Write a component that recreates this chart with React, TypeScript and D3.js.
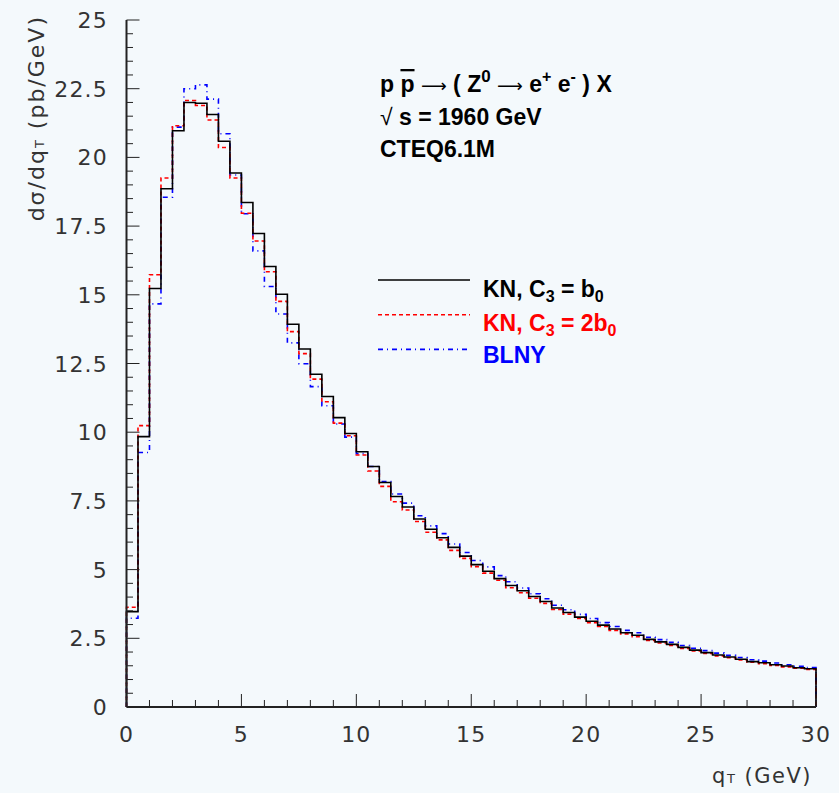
import React from "react";
import * as d3 from "d3";

const binEdges: number[] = d3.range(0, 30, 0.5);

const knB0: number[] = [
  3.47, 9.84, 15.23, 18.86, 20.97, 22.0, 21.97, 21.56, 20.59, 19.43,
  18.36, 17.23, 16.03, 15.02, 13.93, 13.03, 12.11, 11.3, 10.53, 9.95,
  9.29, 8.75, 8.17, 7.66, 7.28, 6.84, 6.47, 6.16, 5.81, 5.49,
  5.18, 4.94, 4.67, 4.42, 4.23, 4.02, 3.84, 3.6, 3.44, 3.27,
  3.12, 2.98, 2.84, 2.7, 2.61, 2.46, 2.37, 2.28, 2.17, 2.07,
  1.98, 1.89, 1.82, 1.74, 1.65, 1.61, 1.54, 1.49, 1.43, 1.39,
];

const kn2B0: number[] = [
  3.63, 10.24, 15.73, 19.25, 21.15, 22.07, 21.89, 21.36, 20.36, 19.25,
  17.97, 16.96, 15.84, 14.76, 13.66, 12.86, 11.93, 11.11, 10.33, 9.87,
  9.17, 8.59, 8.03, 7.47, 7.17, 6.75, 6.36, 6.08, 5.7, 5.41,
  5.11, 4.87, 4.61, 4.34, 4.16, 3.96, 3.77, 3.55, 3.38, 3.22,
  3.07, 2.93, 2.79, 2.66, 2.56, 2.42, 2.33, 2.24, 2.13, 2.04,
  1.95, 1.86, 1.79, 1.71, 1.63, 1.58, 1.51, 1.46, 1.41, 1.37,
];

const blny: number[] = [
  3.23, 9.26, 14.67, 18.55, 21.1, 22.5, 22.64, 22.12, 20.86, 19.36,
  17.95, 16.6, 15.3, 14.3, 13.25, 12.49, 11.66, 10.96, 10.3, 9.82,
  9.22, 8.75, 8.2, 7.75, 7.42, 6.96, 6.59, 6.31, 5.93, 5.62,
  5.33, 5.1, 4.78, 4.56, 4.33, 4.12, 3.94, 3.7, 3.54, 3.37,
  3.22, 3.07, 2.93, 2.79, 2.7, 2.54, 2.45, 2.35, 2.24, 2.14,
  2.05, 1.96, 1.88, 1.8, 1.72, 1.67, 1.6, 1.54, 1.48, 1.44,
];

const xTickLabels: number[] = [0, 5, 10, 15, 20, 25, 30];
const yTickLabels: number[] = [0, 2.5, 5, 7.5, 10, 12.5, 15, 17.5, 20, 22.5, 25];

const W = 839;
const H = 793;
const BG = "#f4f9fc";
const AX = "#222";
const LABEL_FONT = "'DejaVu Sans', sans-serif";
const BOLD_FONT = "'Liberation Sans', Arial, sans-serif";

const x = d3.scaleLinear().domain([0, 30]).range([126.5, 816]);
const y = d3.scaleLinear().domain([0, 25]).range([707, 20]);

function histPath(vals: number[]): string {
  const pts: [number, number][] = [[0, 0]];
  vals.forEach((v, i) => pts.push([binEdges[i], v]));
  pts.push([30, vals[vals.length - 1]]);
  pts.push([30, 0]);
  const line = d3
    .line<[number, number]>()
    .x((d) => x(d[0]))
    .y((d) => y(d[1]))
    .curve(d3.curveStepAfter);
  return line(pts) || "";
}

const series = [
  { vals: knB0, color: "#000000", dash: "none" },
  { vals: kn2B0, color: "#ff0000", dash: "4,3" },
  { vals: blny, color: "#0000ff", dash: "5,4,1,4" },
];

export default function App() {
  const yMinor = d3.range(0, 25.001, 0.5);
  const xMinor = d3.range(0, 30.001, 1);
  return (
    <svg
      width={W}
      height={H}
      style={{ position: "absolute", left: 0, top: 0, display: "block" }}
    >
      <rect x={0} y={0} width={W} height={H} fill={BG} />

      {/* histograms: drawn in order blue, red, black */}
      {[series[2], series[1], series[0]].map((s, i) => (
        <path
          key={i}
          d={histPath(s.vals)}
          fill="none"
          stroke={s.color}
          strokeWidth={1.6}
          strokeDasharray={s.dash}
        />
      ))}

      {/* y axis */}
      <line x1={x(0)} x2={x(0)} y1={y(0)} y2={y(25)} stroke={AX} strokeWidth={2} />
      {yMinor.map((v, i) => {
        const major = Math.abs(v / 2.5 - Math.round(v / 2.5)) < 1e-6;
        return (
          <line
            key={"ym" + i}
            x1={x(0)}
            x2={x(0) + (major ? 13 : 6.5)}
            y1={y(v)}
            y2={y(v)}
            stroke={AX}
            strokeWidth={1}
          />
        );
      })}
      {yTickLabels.map((v) => (
        <text
          key={"yl" + v}
          x={108}
          y={y(v) + 8}
          textAnchor="end"
          fontFamily={LABEL_FONT}
          fontSize={22}
          letterSpacing={1.2}
          fill="#333"
        >
          {String(v)}
        </text>
      ))}

      {/* x axis */}
      <line x1={x(0)} x2={x(30)} y1={y(0)} y2={y(0)} stroke={AX} strokeWidth={2} />
      {xMinor.map((v, i) => {
        const major = v % 5 === 0;
        return (
          <line
            key={"xm" + i}
            x1={x(v)}
            x2={x(v)}
            y1={y(0)}
            y2={y(0) - (major ? 13 : 7)}
            stroke={AX}
            strokeWidth={1}
          />
        );
      })}
      {xTickLabels.map((v) => (
        <text
          key={"xl" + v}
          x={x(v)}
          y={742}
          textAnchor="middle"
          fontFamily={LABEL_FONT}
          fontSize={22}
          letterSpacing={1.2}
          fill="#333"
        >
          {String(v)}
        </text>
      ))}

      {/* axis titles */}
      <text
        x={812}
        y={783}
        textAnchor="end"
        fontFamily={LABEL_FONT}
        fontSize={21}
        letterSpacing={1.5}
        fill="#333"
      >
        q<tspan fontSize={13}>T</tspan> (GeV)
      </text>
      <text
        transform="translate(44,15) rotate(-90)"
        textAnchor="end"
        fontFamily={LABEL_FONT}
        fontSize={22}
        letterSpacing={2}
        fill="#333"
      >
        dσ/dq<tspan fontSize={13}>T</tspan> (pb/GeV)
      </text>

      {/* process annotation */}
      <g fontFamily={BOLD_FONT} fontWeight="bold" fontSize={23} fill="#000">
        <text x={380} y={92}>
          p <tspan textDecoration="overline">p</tspan>{" "}
          <tspan fontWeight="normal" fontFamily={LABEL_FONT} fontSize={18}>⟶</tspan> ( Z
          <tspan fontSize={17} dy={-10}>0</tspan>{" "}
          <tspan dy={10} fontWeight="normal" fontFamily={LABEL_FONT} fontSize={18}>⟶</tspan> e
          <tspan fontSize={16} dy={-10}>+</tspan>
          <tspan dy={10}> e</tspan>
          <tspan fontSize={16} dy={-10}>-</tspan>
          <tspan dy={10}> ) X</tspan>
        </text>
        <text x={380} y={125}>
          <tspan fontWeight="normal">√</tspan> s = 1960 GeV
        </text>
        <text x={380} y={157}>CTEQ6.1M</text>
      </g>

      {/* legend */}
      {series.map((s, i) => (
        <line
          key={"lg" + i}
          x1={378}
          x2={470}
          y1={280 + i * 34.7}
          y2={280 + i * 34.7}
          stroke={s.color}
          strokeWidth={1.6}
          strokeDasharray={s.dash}
        />
      ))}
      <g fontFamily={BOLD_FONT} fontWeight="bold" fontSize={23}>
        <text x={483} y={297} fill="#000">
          KN, C<tspan fontSize={16} dy={5}>3</tspan>
          <tspan dy={-5}> = b</tspan>
          <tspan fontSize={16} dy={5}>0</tspan>
        </text>
        <text x={483} y={331} fill="#ff0000">
          KN, C<tspan fontSize={16} dy={5}>3</tspan>
          <tspan dy={-5}> = 2b</tspan>
          <tspan fontSize={16} dy={5}>0</tspan>
        </text>
        <text x={483} y={363} fill="#0000ff">
          BLNY
        </text>
      </g>
    </svg>
  );
}
